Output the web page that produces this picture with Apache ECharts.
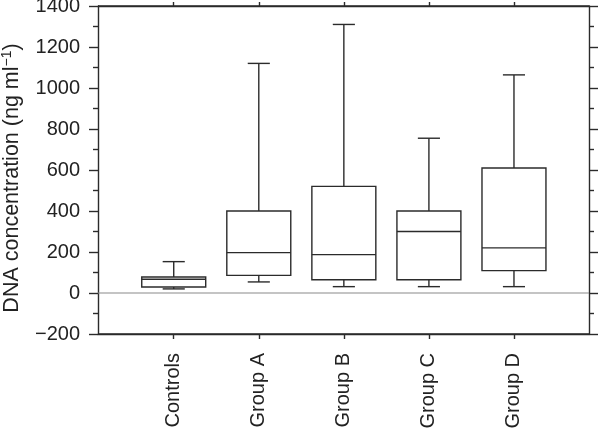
<!DOCTYPE html>
<html>
<head>
<meta charset="utf-8">
<script src="https://cdn.jsdelivr.net/npm/echarts@6/dist/echarts.min.js"></script>
<style>html,body{margin:0;padding:0;background:#fff}#c{width:600px;height:431px}</style>
</head>
<body>
<div id="c"></div>
<script>
var categories = ['Controls', 'Group A', 'Group B', 'Group C', 'Group D'];
var whiskerLow = [20, 54, 31, 31, 31];
var q1 = [29, 86, 65, 65, 109];
var median = [67, 197, 187, 300, 220];
var q3 = [78, 400, 520, 400, 610];
var whiskerHigh = [153, 1120, 1310, 755, 1064];
var zeroLine = [[0, 0], [1, 0]];
var frameCorners = [[0, 1400, 1, -200]];

var FONT = '"Liberation Sans", Arial, sans-serif';
var LINE = '#2b2b2b';
var data = categories.map(function (c, i) {
  return [i, whiskerLow[i], q1[i], median[i], q3[i], whiskerHigh[i]];
});

var chart = echarts.init(document.getElementById('c'), null, {renderer: 'canvas'});

function renderItem(params, api) {
  var x = api.value(0);
  var lo = api.value(1), b1 = api.value(2), md = api.value(3), b3 = api.value(4), hi = api.value(5);
  var band = api.size([1, 0])[0];
  var bw = band * 0.376, cw = band * 0.13;
  var cx = api.coord([x, md])[0];
  var yMd = api.coord([x, md])[1];
  var yLo = api.coord([x, lo])[1], yHi = api.coord([x, hi])[1];
  var yB1 = api.coord([x, b1])[1], yB3 = api.coord([x, b3])[1];
  var st = {stroke: LINE, lineWidth: 1.4, fill: null};
  return {
    type: 'group',
    children: [
      {type: 'rect', shape: {x: cx - bw, y: yB3, width: 2 * bw, height: yB1 - yB3}, style: {stroke: LINE, lineWidth: 1.4, fill: 'transparent'}},
      {type: 'line', shape: {x1: cx - bw, y1: yMd, x2: cx + bw, y2: yMd}, style: st},
      {type: 'line', shape: {x1: cx, y1: yB3, x2: cx, y2: yHi}, style: st},
      {type: 'line', shape: {x1: cx, y1: yB1, x2: cx, y2: yLo}, style: st},
      {type: 'line', shape: {x1: cx - cw, y1: yHi, x2: cx + cw, y2: yHi}, style: st},
      {type: 'line', shape: {x1: cx - cw, y1: yLo, x2: cx + cw, y2: yLo}, style: st}
    ]
  };
}

function renderFrame(params, api) {
  var a = api.coord([api.value(0), api.value(1)]);
  var b = api.coord([api.value(2), api.value(3)]);
  var st = {stroke: LINE, lineWidth: 1.5, fill: null};
  return {
    type: 'group',
    children: [
      {type: 'line', shape: {x1: a[0], y1: a[1], x2: b[0], y2: a[1]}, style: st},
      {type: 'line', shape: {x1: a[0], y1: b[1], x2: b[0], y2: b[1]}, style: st}
    ]
  };
}

function axLine(show) { return {show: show, onZero: false, lineStyle: {color: LINE, width: 1.4}}; }
function tickStyle() { return {color: LINE, width: 1.4}; }

chart.setOption({
  animation: false,
  textStyle: {fontFamily: FONT},
  grid: [
    {left: 98, right: 11, top: 6, bottom: 97, containLabel: false, outerBoundsMode: 'none'},
    {left: 131.2, right: 43.5, top: 6, bottom: 97, containLabel: false, outerBoundsMode: 'none'}
  ],
  xAxis: [{
    gridIndex: 0, type: 'value', min: 0, max: 1, position: 'bottom',
    axisLine: axLine(true), splitLine: {show: false}, axisTick: {show: false}, axisLabel: {show: false}
  }, {
    gridIndex: 0, type: 'value', min: 0, max: 1, position: 'top',
    axisLine: axLine(true), splitLine: {show: false}, axisTick: {show: false}, axisLabel: {show: false}
  }, {
    gridIndex: 1, type: 'category', data: categories, boundaryGap: true, position: 'bottom',
    axisLine: axLine(false), splitLine: {show: false},
    axisTick: {show: true, length: 5, alignWithLabel: true, lineStyle: tickStyle()},
    axisLabel: {show: true, interval: 0, rotate: 90, margin: 19, fontSize: 20, color: '#222', fontFamily: FONT}
  }, {
    gridIndex: 1, type: 'category', data: categories, boundaryGap: true, position: 'top',
    axisLine: axLine(false), splitLine: {show: false},
    axisTick: {show: true, length: 4, alignWithLabel: true, lineStyle: tickStyle()},
    axisLabel: {show: false}
  }],
  yAxis: [{
    gridIndex: 0, type: 'value', min: -200, max: 1400, interval: 200, position: 'left',
    axisLine: axLine(true), splitLine: {show: false},
    axisTick: {show: true, length: 9, lineStyle: tickStyle()},
    minorTick: {show: true, splitNumber: 2, length: 5, lineStyle: tickStyle()},
    axisLabel: {fontSize: 20, color: '#222', margin: 18, fontFamily: FONT,
      formatter: function (v) { return v < 0 ? '\u2212' + (-v) : String(v); }}
  }, {
    gridIndex: 0, type: 'value', min: -200, max: 1400, interval: 200, position: 'right',
    axisLine: axLine(true), splitLine: {show: false},
    axisTick: {show: true, length: 9, lineStyle: tickStyle()},
    minorTick: {show: true, splitNumber: 2, length: 5, lineStyle: tickStyle()},
    axisLabel: {show: false}
  }, {
    gridIndex: 1, type: 'value', min: -200, max: 1400, interval: 200,
    show: false, splitLine: {show: false}
  }],
  graphic: [{
    type: 'text', x: 12, y: 178, rotation: Math.PI / 2, silent: true,
    style: {
      text: '{a|DNA concentration (ng ml}{s|\u22121}{a|)}',
      align: 'center', verticalAlign: 'middle', fill: '#222',
      rich: {
        a: {fontSize: 21.5, fontFamily: FONT, fill: '#222', lineHeight: 24},
        s: {fontSize: 14, fontFamily: FONT, fill: '#222', lineHeight: 24, verticalAlign: 'top', padding: [0, 0, 9, 0]}
      }
    }
  }],
  series: [{
    type: 'line', xAxisIndex: 0, yAxisIndex: 0,
    data: zeroLine, showSymbol: false, symbol: 'none', silent: true,
    lineStyle: {color: '#8a8a8a', width: 1.2}, z: 1
  }, {
    type: 'custom', xAxisIndex: 0, yAxisIndex: 0, clip: false, silent: true,
    renderItem: renderFrame, encode: {x: [0, 2], y: [1, 3]},
    data: frameCorners, z: 10
  }, {
    type: 'custom',
    xAxisIndex: 2, yAxisIndex: 2,
    renderItem: renderItem,
    encode: {x: 0, y: [1, 2, 3, 4, 5]},
    data: data,
    z: 3
  }]
});
</script>
</body>
</html>
